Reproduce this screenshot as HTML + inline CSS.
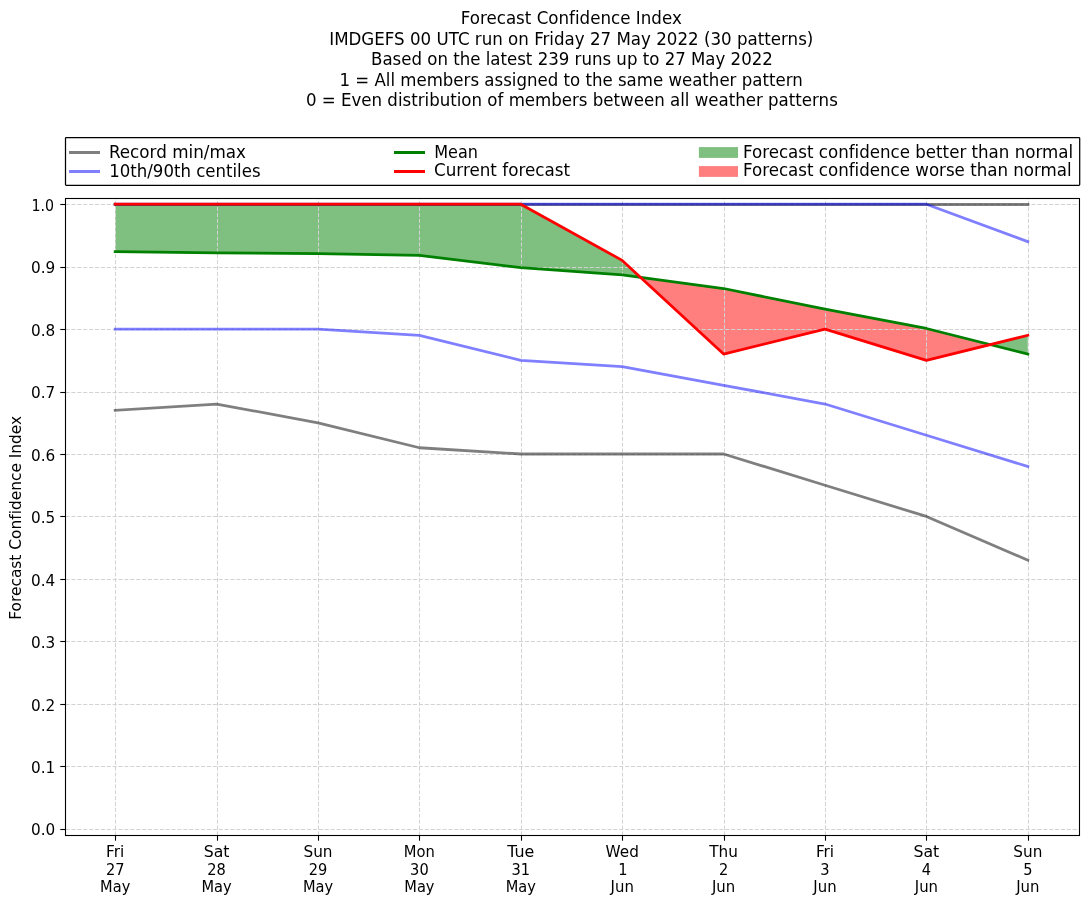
<!DOCTYPE html>
<html lang="en">
<head>
<meta charset="utf-8">
<title>Forecast Confidence Index</title>
<style>
html,body{margin:0;padding:0;background:#fff;}
body{width:1092px;height:924px;overflow:hidden;}
svg{display:block;font-family:"DejaVu Sans","Liberation Sans",sans-serif;fill:#000;}
text{font-variant-ligatures:none;font-feature-settings:"liga" 0,"clig" 0;white-space:pre;}
.a{font-size:16.667px;}
.b{font-size:15.278px;}
.c{font-size:15.278px;}
.grid line{stroke:#d3d3d3;stroke-width:1;stroke-dasharray:4.11 1.78;}
.ticks line{stroke:#000;stroke-width:1.1;}
.ln{fill:none;stroke-width:2.78;stroke-linejoin:round;stroke-linecap:square;}
</style>
</head>
<body>
<svg width="1092" height="924" viewBox="0 0 1092 924">
<rect x="0" y="0" width="1092" height="924" fill="#ffffff"/>
<g>
<polygon points="115.20,204.20 216.60,204.20 318.00,204.20 419.40,204.20 520.80,204.20 622.20,260.40 640.42,277.24 640.42,277.24 622.20,274.77 520.80,267.59 419.40,255.41 318.00,253.54 216.60,252.91 115.20,251.66" fill="#008000" fill-opacity="0.5"/>
<polygon points="990.24,344.60 1027.80,335.35 1027.80,354.08 990.24,344.60" fill="#008000" fill-opacity="0.5"/>
<polygon points="640.42,277.24 723.60,354.08 825.00,329.10 926.40,360.33 990.24,344.60 990.24,344.60 926.40,328.48 825.00,309.12 723.60,288.51 640.42,277.24" fill="#ff0000" fill-opacity="0.5"/>
</g>
<g class="grid">
<line x1="115.5" y1="835.50" x2="115.5" y2="198.00"/>
<line x1="217.5" y1="835.50" x2="217.5" y2="198.00"/>
<line x1="318.5" y1="835.50" x2="318.5" y2="198.00"/>
<line x1="419.5" y1="835.50" x2="419.5" y2="198.00"/>
<line x1="521.5" y1="835.50" x2="521.5" y2="198.00"/>
<line x1="622.5" y1="835.50" x2="622.5" y2="198.00"/>
<line x1="724.5" y1="835.50" x2="724.5" y2="198.00"/>
<line x1="825.5" y1="835.50" x2="825.5" y2="198.00"/>
<line x1="926.5" y1="835.50" x2="926.5" y2="198.00"/>
<line x1="1028.5" y1="835.50" x2="1028.5" y2="198.00"/>
<line x1="65.50" y1="829.5" x2="1079.50" y2="829.5"/>
<line x1="65.50" y1="766.5" x2="1079.50" y2="766.5"/>
<line x1="65.50" y1="704.5" x2="1079.50" y2="704.5"/>
<line x1="65.50" y1="641.5" x2="1079.50" y2="641.5"/>
<line x1="65.50" y1="579.5" x2="1079.50" y2="579.5"/>
<line x1="65.50" y1="516.5" x2="1079.50" y2="516.5"/>
<line x1="65.50" y1="454.5" x2="1079.50" y2="454.5"/>
<line x1="65.50" y1="392.5" x2="1079.50" y2="392.5"/>
<line x1="65.50" y1="329.5" x2="1079.50" y2="329.5"/>
<line x1="65.50" y1="267.5" x2="1079.50" y2="267.5"/>
<line x1="65.50" y1="204.5" x2="1079.50" y2="204.5"/>
</g>
<g class="ln">
<polyline points="115.20,410.29 216.60,404.04 318.00,422.78 419.40,447.76 520.80,454.00 622.20,454.00 723.60,454.00 825.00,485.23 926.40,516.45 1027.80,560.17" stroke="#000000" stroke-opacity="0.5"/>
<line x1="115.20" y1="204.5" x2="1027.80" y2="204.5" stroke="#000000" stroke-opacity="0.5" stroke-width="3"/>
<polyline points="115.20,329.10 216.60,329.10 318.00,329.10 419.40,335.35 520.80,360.33 622.20,366.57 723.60,385.31 825.00,404.04 926.40,435.27 1027.80,466.49" stroke="#0000ff" stroke-opacity="0.5"/>
<polyline points="115.20,204.20 216.60,204.20 318.00,204.20 419.40,204.20 520.80,204.20 622.20,204.20 723.60,204.20 825.00,204.20 926.40,204.20 1027.80,241.67" stroke="#0000ff" stroke-opacity="0.5"/>
<polyline points="115.20,251.66 216.60,252.91 318.00,253.54 419.40,255.41 520.80,267.59 622.20,274.77 723.60,288.51 825.00,309.12 926.40,328.48 1027.80,354.08" stroke="#008000"/>
<polyline points="115.20,204.20 216.60,204.20 318.00,204.20 419.40,204.20 520.80,204.20 622.20,260.40 723.60,354.08 825.00,329.10 926.40,360.33 1027.80,335.35" stroke="#ff0000"/>
</g>
<g class="ticks">
<line x1="115.5" y1="835.5" x2="115.5" y2="840.7"/>
<line x1="217.5" y1="835.5" x2="217.5" y2="840.7"/>
<line x1="318.5" y1="835.5" x2="318.5" y2="840.7"/>
<line x1="419.5" y1="835.5" x2="419.5" y2="840.7"/>
<line x1="521.5" y1="835.5" x2="521.5" y2="840.7"/>
<line x1="622.5" y1="835.5" x2="622.5" y2="840.7"/>
<line x1="724.5" y1="835.5" x2="724.5" y2="840.7"/>
<line x1="825.5" y1="835.5" x2="825.5" y2="840.7"/>
<line x1="926.5" y1="835.5" x2="926.5" y2="840.7"/>
<line x1="1028.5" y1="835.5" x2="1028.5" y2="840.7"/>
<line x1="60.3" y1="829.5" x2="65.5" y2="829.5"/>
<line x1="60.3" y1="766.5" x2="65.5" y2="766.5"/>
<line x1="60.3" y1="704.5" x2="65.5" y2="704.5"/>
<line x1="60.3" y1="641.5" x2="65.5" y2="641.5"/>
<line x1="60.3" y1="579.5" x2="65.5" y2="579.5"/>
<line x1="60.3" y1="516.5" x2="65.5" y2="516.5"/>
<line x1="60.3" y1="454.5" x2="65.5" y2="454.5"/>
<line x1="60.3" y1="392.5" x2="65.5" y2="392.5"/>
<line x1="60.3" y1="329.5" x2="65.5" y2="329.5"/>
<line x1="60.3" y1="267.5" x2="65.5" y2="267.5"/>
<line x1="60.3" y1="204.5" x2="65.5" y2="204.5"/>
</g>
<rect x="65.5" y="198.5" width="1014.0" height="637.0" fill="none" stroke="#000" stroke-width="1.1"/>
<rect x="65.50" y="137.50" width="1014.20" height="47.75" rx="0.8" ry="0.8" fill="#fff" stroke="#000" stroke-width="1.25"/>
<g fill="none" stroke-width="3">
<line x1="69.0" y1="152.50" x2="100.0" y2="152.50" stroke="#000000" stroke-opacity="0.5"/>
<line x1="69.0" y1="171.50" x2="100.0" y2="171.50" stroke="#0000ff" stroke-opacity="0.5"/>
<line x1="394.0" y1="152.50" x2="425.0" y2="152.50" stroke="#008000"/>
<line x1="394.0" y1="171.50" x2="425.0" y2="171.50" stroke="#ff0000"/>
</g>
<rect x="698.9" y="147.10" width="39.1" height="10.8" fill="#008000" fill-opacity="0.5"/>
<rect x="698.9" y="166.10" width="39.1" height="10.8" fill="#ff0000" fill-opacity="0.5"/>
<g>
<text class="a" text-anchor="middle" transform="translate(571.25 24.00) scale(1.0023 1.0700)">Forecast Confidence Index</text>
<text class="a" text-anchor="middle" transform="translate(571.30 45.00) scale(1.0010 1.0700)">IMDGEFS 00 UTC run on Friday 27 May 2022 (30 patterns)</text>
<text class="a" text-anchor="middle" transform="translate(571.95 65.40) scale(0.9963 1.0700)">Based on the latest 239 runs up to 27 May 2022</text>
<text class="a" text-anchor="middle" transform="translate(571.05 85.90) scale(0.9968 1.0700)">1 = All members assigned to the same weather pattern</text>
<text class="a" text-anchor="middle" transform="translate(571.85 106.40) scale(0.9976 1.0700)">0 = Even distribution of members between all weather patterns</text>
<text class="a" transform="translate(108.90 158.00) scale(1.0067 1.0700)">Record min/max</text>
<text class="a" transform="translate(109.20 177.00) scale(0.9947 1.0700)">10th/90th centiles</text>
<text class="a" transform="translate(434.20 158.00) scale(0.9630 1.0700)">Mean</text>
<text class="a" transform="translate(434.00 176.00) scale(1.0060 1.0700)">Current forecast</text>
<text class="a" transform="translate(743.00 158.00) scale(1.0000 1.0700)">Forecast confidence better than normal</text>
<text class="a" transform="translate(743.00 176.00) scale(1.0000 1.0700)">Forecast confidence worse than normal</text>
<text class="c" text-anchor="end" transform="translate(55.20 835.30) scale(1.0000 1.0770)">0.0</text>
<text class="c" text-anchor="end" transform="translate(55.20 773.30) scale(1.0000 1.0770)">0.1</text>
<text class="c" text-anchor="end" transform="translate(55.20 711.30) scale(1.0000 1.0770)">0.2</text>
<text class="c" text-anchor="end" transform="translate(55.20 648.30) scale(1.0000 1.0770)">0.3</text>
<text class="c" text-anchor="end" transform="translate(55.20 586.30) scale(1.0000 1.0770)">0.4</text>
<text class="c" text-anchor="end" transform="translate(55.20 523.30) scale(1.0000 1.0770)">0.5</text>
<text class="c" text-anchor="end" transform="translate(55.20 461.30) scale(1.0000 1.0770)">0.6</text>
<text class="c" text-anchor="end" transform="translate(55.20 398.30) scale(1.0000 1.0770)">0.7</text>
<text class="c" text-anchor="end" transform="translate(55.20 336.30) scale(1.0000 1.0770)">0.8</text>
<text class="c" text-anchor="end" transform="translate(55.20 273.30) scale(1.0000 1.0770)">0.9</text>
<text class="c" text-anchor="end" transform="translate(54.10 211.30) scale(0.9300 1.0770)">1.0</text>
<text class="c" text-anchor="middle" transform="translate(115.20 856.60) scale(1.0000 1.0770)">Fri</text>
<text class="c" text-anchor="middle" transform="translate(115.20 874.60) scale(0.9550 1.0770)">27</text>
<text class="c" text-anchor="middle" transform="translate(115.20 891.80) scale(0.9550 1.0770)">May</text>
<text class="c" text-anchor="middle" transform="translate(216.60 856.60) scale(1.0300 1.0770)">Sat</text>
<text class="c" text-anchor="middle" transform="translate(216.60 874.60) scale(0.9550 1.0770)">28</text>
<text class="c" text-anchor="middle" transform="translate(216.60 891.80) scale(0.9550 1.0770)">May</text>
<text class="c" text-anchor="middle" transform="translate(318.00 856.60) scale(1.0000 1.0770)">Sun</text>
<text class="c" text-anchor="middle" transform="translate(318.00 874.60) scale(0.9550 1.0770)">29</text>
<text class="c" text-anchor="middle" transform="translate(318.00 891.80) scale(0.9550 1.0770)">May</text>
<text class="c" text-anchor="middle" transform="translate(419.40 856.60) scale(0.9650 1.0770)">Mon</text>
<text class="c" text-anchor="middle" transform="translate(419.40 874.60) scale(0.9550 1.0770)">30</text>
<text class="c" text-anchor="middle" transform="translate(419.40 891.80) scale(0.9550 1.0770)">May</text>
<text class="c" text-anchor="middle" transform="translate(520.80 856.60) scale(1.0400 1.0770)">Tue</text>
<text class="c" text-anchor="middle" transform="translate(520.80 874.60) scale(0.9550 1.0770)">31</text>
<text class="c" text-anchor="middle" transform="translate(520.80 891.80) scale(0.9550 1.0770)">May</text>
<text class="c" text-anchor="middle" transform="translate(622.20 856.60) scale(1.0000 1.0770)">Wed</text>
<text class="c" text-anchor="middle" transform="translate(622.80 874.60) scale(0.9550 1.0770)">1</text>
<text class="c" text-anchor="middle" transform="translate(622.20 891.80) scale(0.9750 1.0770)">Jun</text>
<text class="c" text-anchor="middle" transform="translate(723.60 856.60) scale(1.0000 1.0770)">Thu</text>
<text class="c" text-anchor="middle" transform="translate(723.60 874.60) scale(0.9550 1.0770)">2</text>
<text class="c" text-anchor="middle" transform="translate(723.60 891.80) scale(0.9750 1.0770)">Jun</text>
<text class="c" text-anchor="middle" transform="translate(825.00 856.60) scale(1.0000 1.0770)">Fri</text>
<text class="c" text-anchor="middle" transform="translate(825.00 874.60) scale(0.9550 1.0770)">3</text>
<text class="c" text-anchor="middle" transform="translate(825.00 891.80) scale(0.9750 1.0770)">Jun</text>
<text class="c" text-anchor="middle" transform="translate(926.40 856.60) scale(1.0300 1.0770)">Sat</text>
<text class="c" text-anchor="middle" transform="translate(926.40 874.60) scale(0.9550 1.0770)">4</text>
<text class="c" text-anchor="middle" transform="translate(926.40 891.80) scale(0.9750 1.0770)">Jun</text>
<text class="c" text-anchor="middle" transform="translate(1027.80 856.60) scale(1.0000 1.0770)">Sun</text>
<text class="c" text-anchor="middle" transform="translate(1027.80 874.60) scale(0.9550 1.0770)">5</text>
<text class="c" text-anchor="middle" transform="translate(1027.80 891.80) scale(0.9750 1.0770)">Jun</text>
<text class="b" text-anchor="middle" transform="translate(21.00 517.80) rotate(-90) scale(1.0080 1.0600)">Forecast Confidence Index</text>
</g>
</svg>
</body>
</html>
